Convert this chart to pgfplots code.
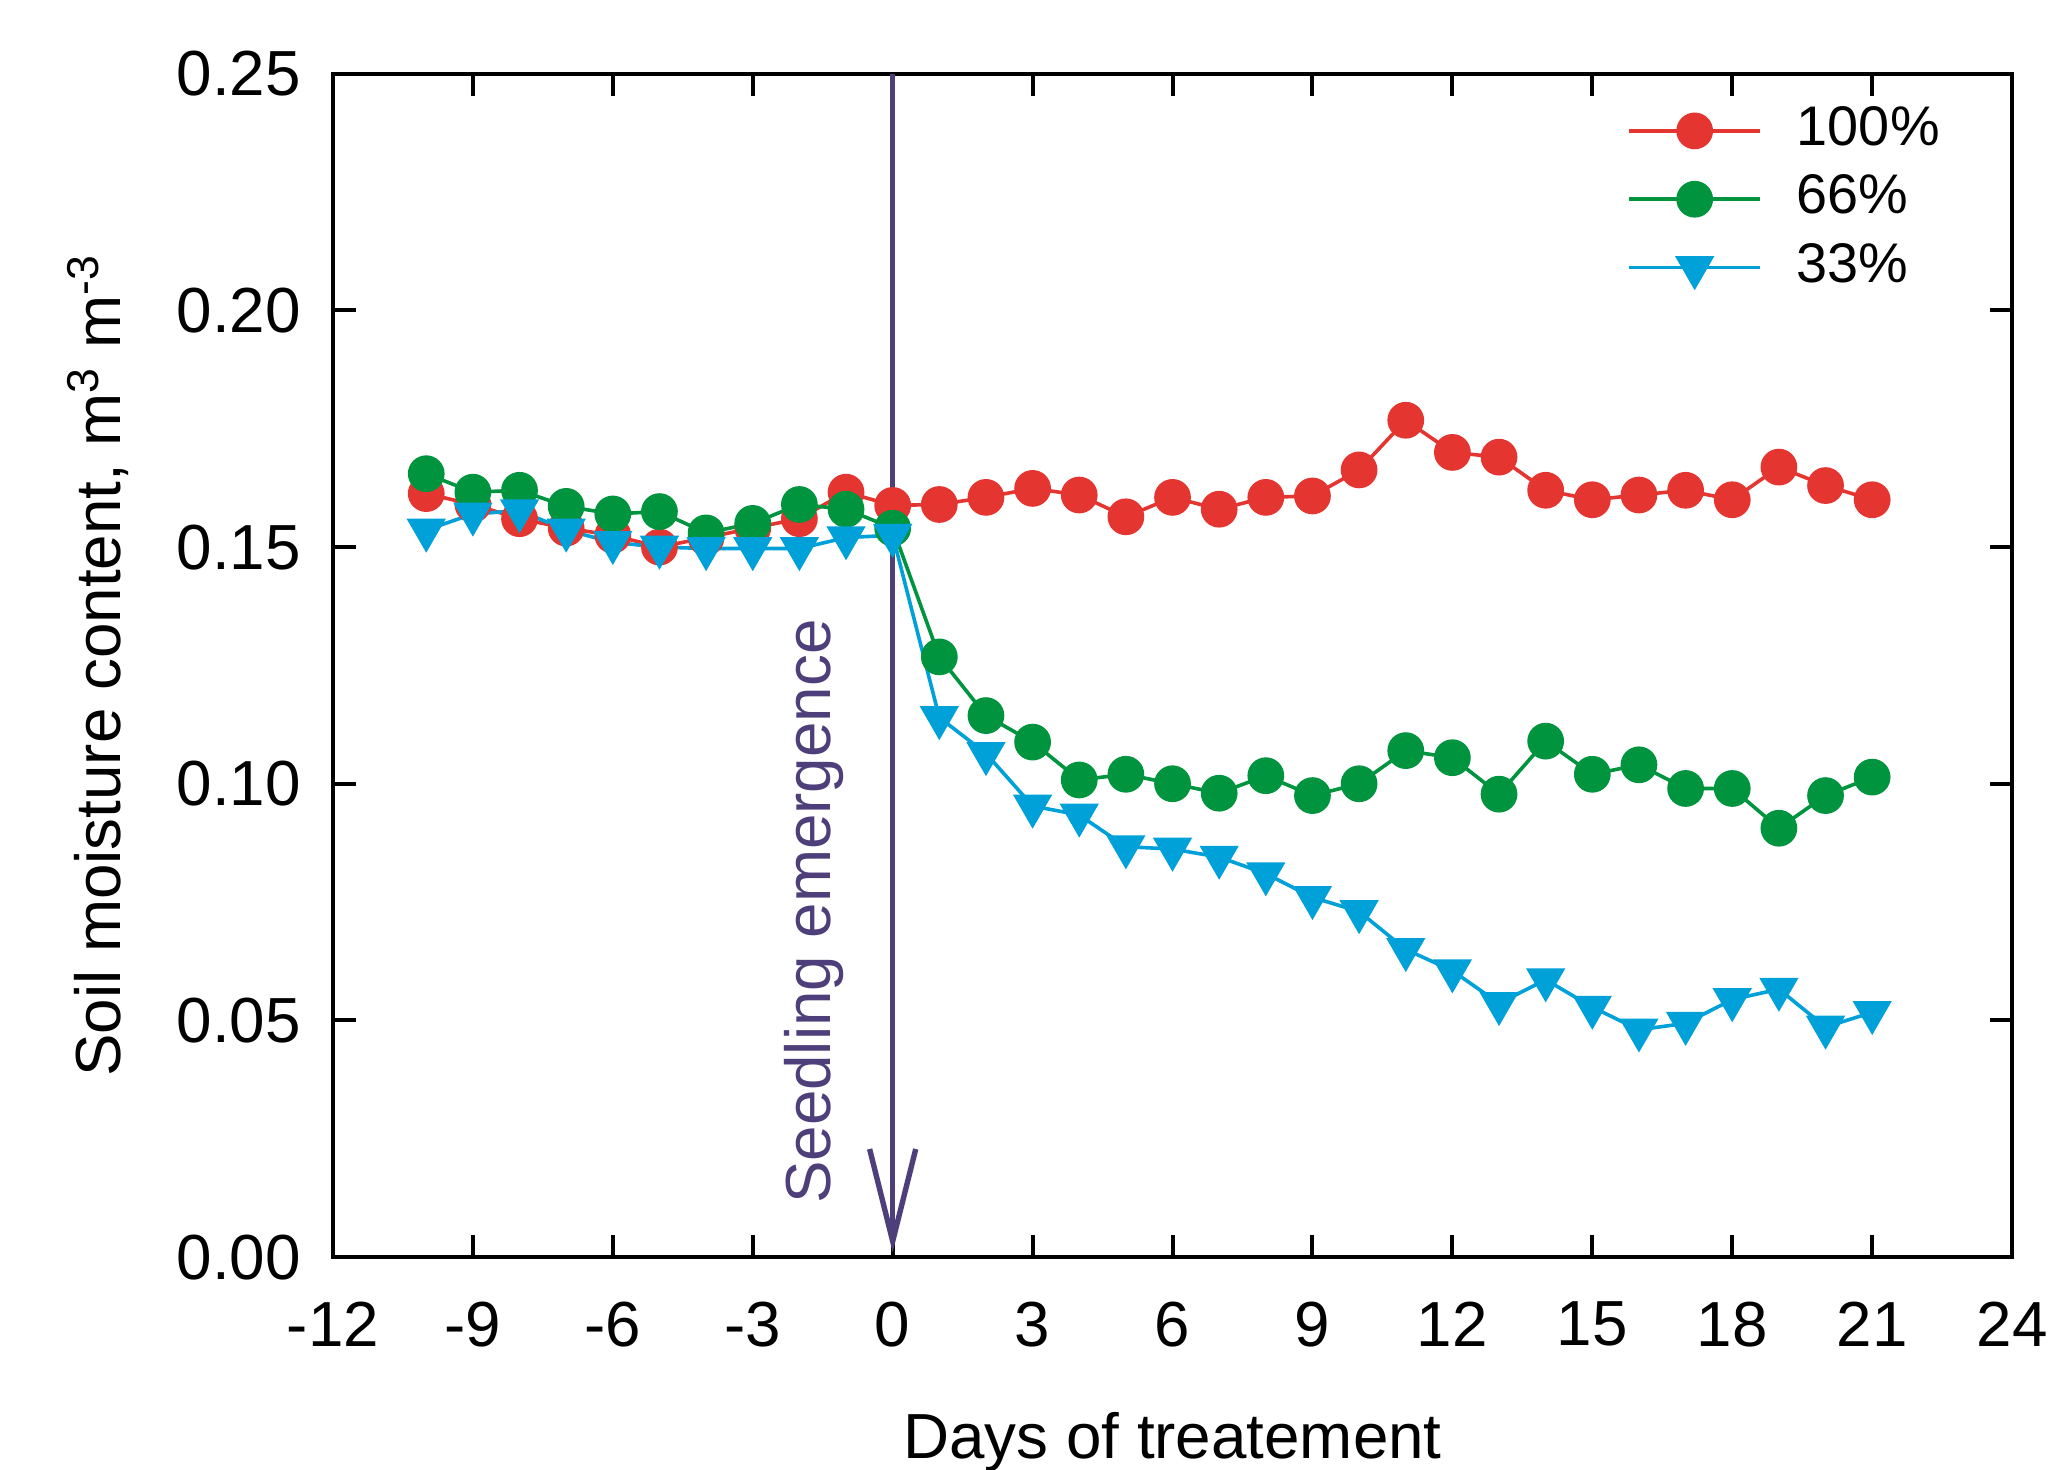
\documentclass[border=0pt]{standalone}
\usepackage{fontspec}
\setmainfont{Liberation Sans}
\usepackage{pgfplots}
\pgfplotsset{compat=1.18}
\usetikzlibrary{arrows.meta}

\definecolor{cRed}{HTML}{E53530}
\definecolor{cGreen}{HTML}{00943F}
\definecolor{cBlue}{HTML}{00A0D8}
\definecolor{cPurple}{HTML}{4E3F7A}

\begin{document}
\fontsize{17.7}{21}\selectfont
\begin{tikzpicture}
\useasboundingbox (-3.25cm,-2.07cm) rectangle (16.75cm,12.27cm);
\begin{axis}[
  at={(0,0)}, anchor=south west,
  scale only axis,
  width=16.39cm, height=11.55cm,
  xmin=-12, xmax=24, ymin=0, ymax=0.25,
  xtick={-12,-9,...,24},
  ytick={0,0.05,...,0.25},
  tick align=inside,
  major tick length=0.22cm,
  xtick pos=both, ytick pos=both,
  axis line style={line width=1.1pt},
  tick style={line width=1.1pt, black},
  /pgf/number format/assume math mode=true,
  yticklabel style={/pgf/number format/fixed, /pgf/number format/fixed zerofill,
    /pgf/number format/precision=2, xshift=-0.1cm},
  xticklabel style={yshift=-0.22cm},
  scaled y ticks=false,
  xlabel={Days of treatement},
  ylabel={Soil moisture content, m\textsuperscript{3} m\textsuperscript{-3}},
  xlabel style={at={(axis description cs:0.5,-0.156)}, anchor=center, inner sep=0pt},
  ylabel style={at={(axis description cs:-0.14,0.5)}, anchor=center, rotate=0, inner sep=0pt},
  legend style={at={(0.968,0.985)}, anchor=north east, draw=none, fill=none,
    row sep=1.5pt, font=\fontsize{15.5}{18}\selectfont},
  legend cell align=left,
  legend image code/.code={
    \draw[#1] (0cm,0cm) -- (1.28cm,0cm);
    \draw[#1, only marks] plot coordinates {(0.64cm,0cm)};
    \path (1.55cm,0cm);
  },
  every axis plot/.append style={line width=1pt},
  clip=false,
]
\addplot[color=cRed, mark=*, mark size=4.6pt] coordinates {
(-10,0.1613) (-9,0.1590) (-8,0.1560) (-7,0.1540) (-6,0.1525) (-5,0.1500)
(-4,0.1520) (-3,0.1540) (-2,0.1560) (-1,0.1616) (0,0.1588) (1,0.1590)
(2,0.1605) (3,0.1624) (4,0.1610) (5,0.1564) (6,0.1605) (7,0.1580)
(8,0.1605) (9,0.1608) (10,0.1663) (11,0.1768) (12,0.1700) (13,0.1690)
(14,0.1620) (15,0.1600) (16,0.1610) (17,0.1620) (18,0.1600) (19,0.1669)
(20,0.1630) (21,0.1600)};
\addlegendentry{100\%}
\addplot[color=cGreen, mark=*, mark size=4.6pt] coordinates {
(-10,0.1655) (-9,0.1616) (-8,0.1620) (-7,0.1586) (-6,0.1570) (-5,0.1575)
(-4,0.1530) (-3,0.1550) (-2,0.1590) (-1,0.1580) (0,0.1540) (1,0.1268)
(2,0.1144) (3,0.1088) (4,0.1008) (5,0.1020) (6,0.1000) (7,0.0980)
(8,0.1017) (9,0.0975) (10,0.1000) (11,0.1070) (12,0.1055) (13,0.0978)
(14,0.1090) (15,0.1020) (16,0.1040) (17,0.0990) (18,0.0990) (19,0.0906)
(20,0.0975) (21,0.1014)};
\addlegendentry{66\%}
\addplot[color=cBlue, mark=triangle*, mark size=5.3pt,
  mark options={rotate=180}] coordinates {
(-10,0.1536) (-9,0.1570) (-8,0.1577) (-7,0.1536) (-6,0.1510) (-5,0.1500)
(-4,0.1497) (-3,0.1497) (-2,0.1497) (-1,0.1520) (0,0.1525) (1,0.1140)
(2,0.1064) (3,0.0953) (4,0.0934) (5,0.0867) (6,0.0862) (7,0.0845)
(8,0.0810) (9,0.0760) (10,0.0730) (11,0.0650) (12,0.0605) (13,0.0536)
(14,0.0586) (15,0.0528) (16,0.0480) (17,0.0494) (18,0.0544) (19,0.0566)
(20,0.0486) (21,0.0517)};
\addlegendentry{33\%}
\draw[cPurple, line width=1.5pt, -{Straight Barb[length=0.9cm, width=0.45cm, line width=1.5pt]}]
  (axis cs:0,0.25) -- (axis cs:0,0.001);
\node[cPurple, rotate=90, anchor=center, inner sep=0pt] at (axis cs:-1.68,0.073) {Seedling emergence};
\end{axis}
\end{tikzpicture}
\end{document}
